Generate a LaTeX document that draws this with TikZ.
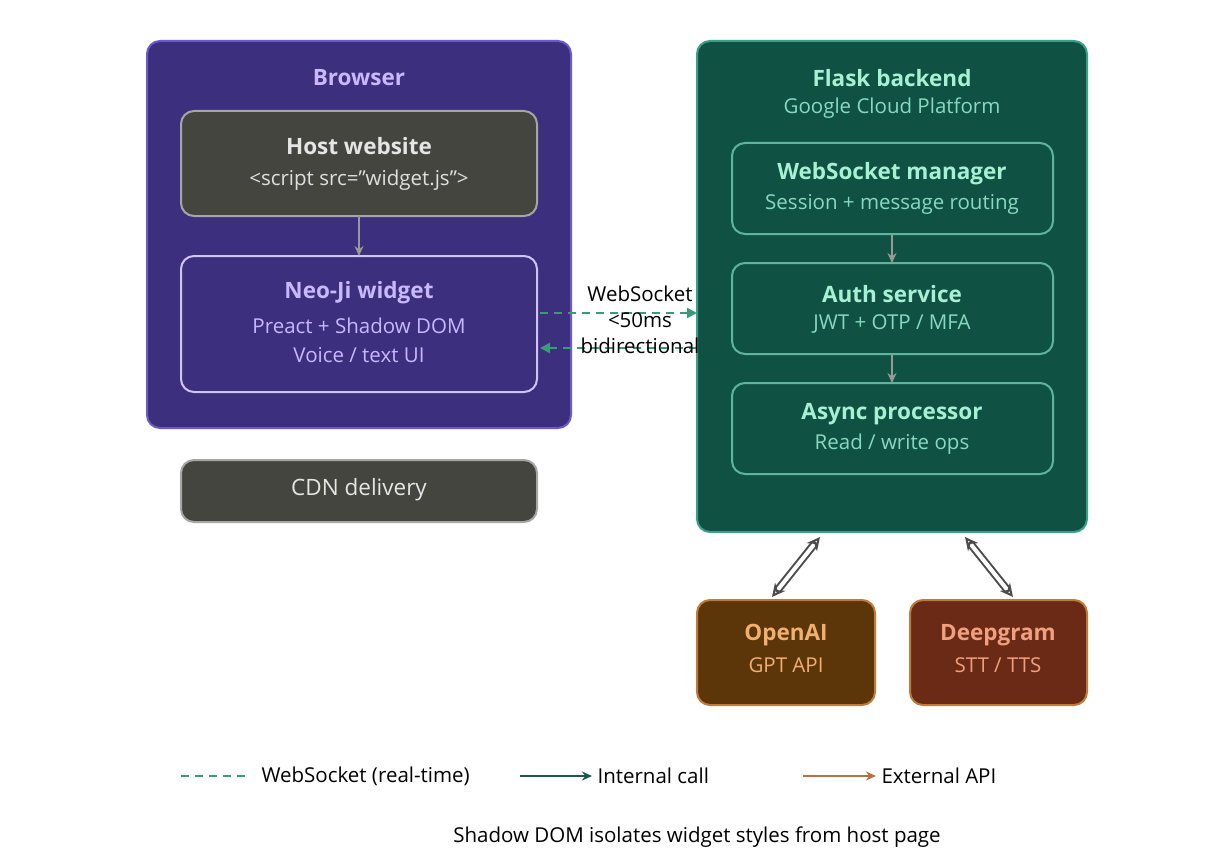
\documentclass[tikz,border=0pt]{standalone}
\usepackage{fontspec}
\setmainfont{Open Sans}
\usetikzlibrary{arrows.meta}
\definecolor{purp}{HTML}{3B2F7E}
\definecolor{purpb}{HTML}{6A5ACD}
\definecolor{purpt}{HTML}{C8B8FF}
\definecolor{gbox}{HTML}{454540}
\definecolor{gfill}{HTML}{0F5244}
\definecolor{gb}{HTML}{3AA08A}
\definecolor{gt}{HTML}{A8F0D4}
\definecolor{gs}{HTML}{8AD8C0}
\definecolor{ws}{HTML}{3A9A7A}
\definecolor{oa}{HTML}{5C3508}\definecolor{dg}{HTML}{6A2A15}\definecolor{ob}{HTML}{C07A3A}
\definecolor{oat}{HTML}{F0B070}\definecolor{dgt}{HTML}{F0A080}
\definecolor{intc}{HTML}{1A5A4A}\definecolor{extc}{HTML}{B87040}
\tikzset{x=1pt,y=-1pt,
 box/.style={rounded corners=13pt,line width=2pt},
 ttl/.style={font=\fontsize{22.5}{26}\selectfont\bfseries},
 sub/.style={font=\fontsize{20.5}{24}\selectfont},
 lab/.style={font=\fontsize{20.5}{25}\selectfont,align=center},
 intr/.style={-{Stealth[length=10pt,width=9pt]},line width=2pt,draw=gray!80},
 dbl/.style={{Stealth[length=13pt,width=13pt,open]}-{Stealth[length=13pt,width=13pt,open]},double=white,double distance=4pt,line width=2pt,draw=gray!60!black},
}
\begin{document}
\begin{tikzpicture}
\useasboundingbox (0,0) rectangle (1232,864);
% Browser
\draw[box,fill=purp,draw=purpb] (147,41) rectangle (571,428);
\node[ttl,text=purpt] (browser) at (359,78) {Browser};
\draw[box,fill=gbox,draw=gray!70] (181,111) rectangle (537,216);
\coordinate (hostb) at (359,216);
\node[ttl,text=gray!20] (host) at (359,146) {Host website};
\node[sub,text=gray!25] (hosts) at (359,180) {<script src="widget.js">};
\draw[box,fill=purp,draw=purpt!85] (181,256) rectangle (537,392);
\coordinate (neot) at (359,256);
\node[ttl,text=purpt] (neo) at (359,293) {Neo-Ji widget};
\node[sub,text=purpt] (neos) at (359,326) {Preact + Shadow DOM};
\node[sub,text=purpt] (neos2) at (359,355) {Voice / text UI};
\draw[intr] (hostb) -- (neot);
\draw[box,fill=gbox,draw=gray!70] (181,460) rectangle (537,522);
\node[font=\fontsize{22.5}{26}\selectfont,text=gray!20] (cdn) at (359,490) {CDN delivery};
% Flask
\draw[box,fill=gfill,draw=gb] (697,41) rectangle (1087,532);
\node[ttl,text=gt] (flask) at (892,78) {Flask backend};
\node[sub,text=gs] (gcp) at (892,108) {Google Cloud Platform};
\foreach \n/\y/\t/\s in {wsm/143/{WebSocket manager}/{Session + message routing}, auth/263/{Auth service}/{JWT + OTP / MFA}, async/383/{Async processor}/{Read / write ops}}{
 \draw[box,draw=gb!80!white] (732,\y) rectangle (1053,\y+91);
 \coordinate (\n t) at (892,\y);
 \coordinate (\n b) at (892,\y+91);
 \node[ttl,text=gt] (\n) at (892,\y+31) {\t};
 \node[sub,text=gs] (\n s) at (892,\y+61) {\s};
}
\draw[intr] (wsmb) -- (autht);
\draw[intr] (authb) -- (asynct);
% websocket
\coordinate (wl1) at (540,313); \coordinate (wr1) at (697,313);
\coordinate (wl2) at (540,348); \coordinate (wr2) at (697,348);
\draw[ws,dash pattern=on 8pt off 6pt,line width=2.2pt,-{Triangle[length=10pt,width=10pt]}] (wl1) -- (wr1);
\draw[ws,dash pattern=on 8pt off 6pt,line width=2.2pt,-{Triangle[length=10pt,width=10pt]}] (wr2) -- (wl2);
\node[lab,inner sep=1pt] (wsl) at (640,320) {WebSocket\\[1pt]<50ms\\[1pt]bidirectional};
% external
\draw[box,fill=oa,draw=ob] (697,600) rectangle (875,705);
\node[ttl,text=oat] (openai) at (786,635) {OpenAI};
\node[sub,text=oat] (gpt) at (786,665) {GPT API};
\draw[box,fill=dg,draw=ob] (910,600) rectangle (1087,705);
\node[ttl,text=dgt] (deep) at (998,635) {Deepgram};
\node[sub,text=dgt] (stt) at (998,665) {STT / TTS};
\coordinate (f1) at (820,537); \coordinate (o1) at (772,597);
\coordinate (f2) at (965,537); \coordinate (d1) at (1013,597);
\draw[dbl] (f1) -- (o1);
\draw[dbl] (f2) -- (d1);
% legend
\coordinate (l1a) at (181,776); \coordinate (l1b) at (248,776);
\draw[ws,dash pattern=on 8pt off 6pt,line width=2.2pt] (l1a) -- (l1b);
\node[lab,anchor=west] (lt1) at (258,776) {WebSocket (real-time)};
\coordinate (l2a) at (520,776); \coordinate (l2b) at (592,776);
\draw[intc,line width=2.2pt,-{Stealth[length=10pt,width=9pt]}] (l2a) -- (l2b);
\node[lab,anchor=west] (lt2) at (594,776) {Internal call};
\coordinate (l3a) at (803,776); \coordinate (l3b) at (876,776);
\draw[extc,line width=2.2pt,-{Stealth[length=10pt,width=9pt]}] (l3a) -- (l3b);
\node[lab,anchor=west] (lt3) at (878,776) {External API};
\node[lab] (foot) at (697,837) {Shadow DOM isolates widget styles from host page};
\end{tikzpicture}
\end{document}
